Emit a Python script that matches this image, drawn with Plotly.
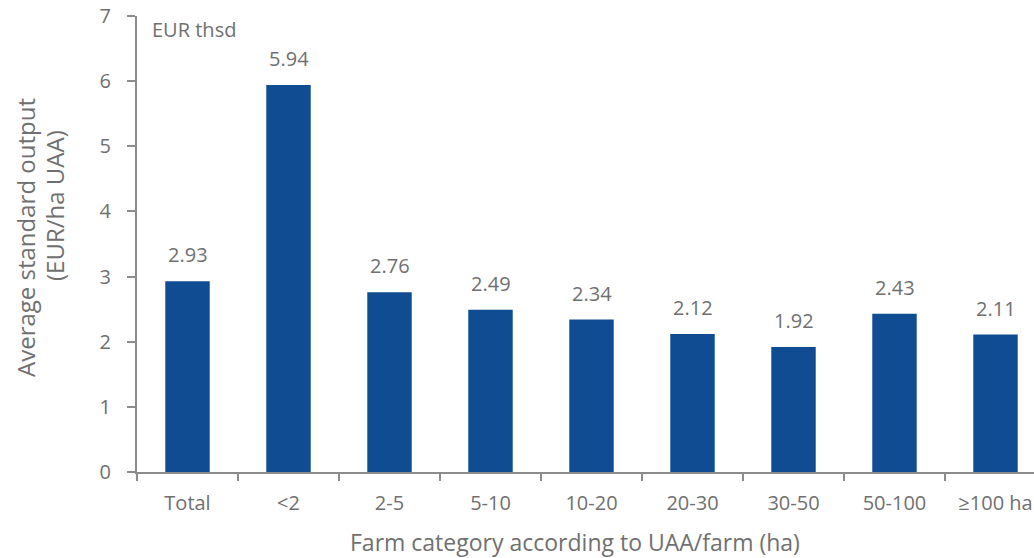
import plotly.graph_objects as go

categories = ["Total", "<2", "2-5", "5-10", "10-20", "20-30", "30-50", "50-100", "≥100 ha"]
values = [2.93, 5.94, 2.76, 2.49, 2.34, 2.12, 1.92, 2.43, 2.11]
y_ticks = [0, 1, 2, 3, 4, 5, 6, 7]

W, H = 1034, 558
L, R, T, B = 137, 0, 16, 86
FONT = "'Open Sans', sans-serif"
TXT = "#707070"
AX = "#8c8c8c"
BAR = "#0F4C91"

fig = go.Figure()
fig.add_trace(go.Bar(
    x=categories, y=values,
    marker=dict(color=BAR, line=dict(width=0)),
    cliponaxis=False,
    width=0.44,
))

plot_w = W - L - R
plot_h = H - T - B
cat_px = 101.0

def px(x, y):
    return (x - L) / plot_w, 1 - (y - T) / plot_h

ann = []
for c, v in zip(categories, values):
    ann.append(dict(text=f"{v:.2f}", x=c, y=v, xref="x", yref="y",
                    xanchor="center", yanchor="bottom", yshift=11, showarrow=False,
                    font=dict(family=FONT, size=20, color=TXT)))
ax_, ay_ = px(150, 30)
ann.append(dict(text="EUR thsd", xref="paper", yref="paper", x=ax_, y=ay_,
                xanchor="left", yanchor="middle", showarrow=False,
                font=dict(family=FONT, size=20, color=TXT)))
ax_, ay_ = px(25, 238)
ann.append(dict(text="Average standard output", xref="paper", yref="paper", x=ax_, y=ay_,
                xanchor="center", yanchor="middle", showarrow=False, textangle=-90,
                font=dict(family=FONT, size=24, color=TXT)))
ax_, ay_ = px(54, 206)
ann.append(dict(text="(EUR/ha UAA)", xref="paper", yref="paper", x=ax_, y=ay_,
                xanchor="center", yanchor="middle", showarrow=False, textangle=-90,
                font=dict(family=FONT, size=24, color=TXT)))
ax_, ay_ = px(575, 542)
ann.append(dict(text="Farm category according to UAA/farm (ha)", xref="paper", yref="paper",
                x=ax_, y=ay_, xanchor="center", yanchor="middle", showarrow=False,
                font=dict(family=FONT, size=23, color=TXT)))

fig.update_layout(
    width=W, height=H,
    margin=dict(l=L, r=R, t=T, b=B),
    paper_bgcolor="white", plot_bgcolor="white",
    showlegend=False,
    font=dict(family=FONT, color=TXT),
    xaxis=dict(
        type="category",
        range=[-0.5, -0.5 + plot_w / cat_px],
        showline=True, linecolor=AX, linewidth=2,
        ticks="outside", tickson="boundaries", ticklen=7, tickcolor=AX, tickwidth=2,
        tickfont=dict(family=FONT, size=20, color=TXT),
        ticklabelstandoff=12,
        showgrid=False, zeroline=False,
    ),
    yaxis=dict(
        range=[0, 7],
        tickvals=y_ticks,
        showline=True, linecolor=AX, linewidth=2,
        ticks="outside", ticklen=8, tickcolor=AX, tickwidth=2,
        tickfont=dict(family=FONT, size=20, color=TXT),
        ticklabelstandoff=12,
        showgrid=False, zeroline=False,
    ),
    annotations=ann,
)

fig.write_html("out.html")
